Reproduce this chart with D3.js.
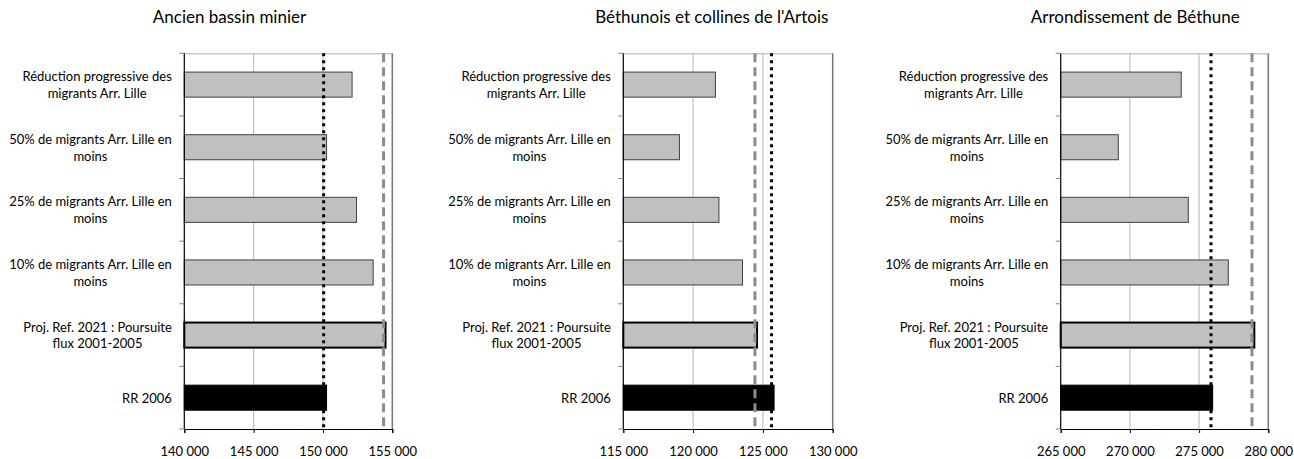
<!DOCTYPE html>
<html>
<head>
<meta charset="utf-8">
<script src="https://cdn.jsdelivr.net/npm/d3@7"></script>
<style>
  body { margin: 0; background: #fff; }
  text { font-family: Lato, "Open Sans", sans-serif; fill: #000; }
</style>
</head>
<body>
<svg id="chart" width="1294" height="459"></svg>
<script>
// Scenario labels, top to bottom (line breaks as wrapped in the chart)
const categories = [
  "Réduction progressive des\nmigrants Arr. Lille",
  "50% de migrants Arr. Lille en\nmoins",
  "25% de migrants Arr. Lille en\nmoins",
  "10% de migrants Arr. Lille en\nmoins",
  "Proj. Ref. 2021 : Poursuite\nflux 2001-2005",
  "RR 2006"
];

const regions = [
  "Ancien bassin minier",
  "Béthunois et collines de l'Artois",
  "Arrondissement de Béthune"
];

// Population 2021 per scenario
const valuesBassinMinier = [152100, 150260, 152420, 153620, 154510, 150260];
const valuesBethunois   = [121600, 119020, 121850, 123540, 124580, 125800];
const valuesArrondissement = [273710, 269160, 274220, 277110, 278990, 275980];

// Reference lines (dotted black, dashed grey)
const dottedRef = [150050, 125620, 275860];
const dashedRef = [154370, 124430, 278820];

const xDomains = [[140000, 155000], [115000, 130000], [265000, 280000]];
const tickValues = [
  [140000, 145000, 150000, 155000],
  [115000, 120000, 125000, 130000],
  [265000, 270000, 275000, 280000]
];

const seriesValues = [valuesBassinMinier, valuesBethunois, valuesArrondissement];

// Panel geometry
const panels = [
  { left: 184.3, right: 392.3, titleX: 229.5 },
  { left: 623.3, right: 832.7, titleX: 711.8 },
  { left: 1060.7, right: 1268.3, titleX: 1135.3 }
];
const plotTop = 53.3, plotBottom = 429;

const fr = d3.formatLocale({ decimal: ",", thousands: " ", grouping: [3], currency: ["", " €"] });
const fmt = fr.format(",d");

const svg = d3.select("#chart");

panels.forEach((p, k) => {
  const g = svg.append("g");
  const x = d3.scaleLinear().domain(xDomains[k]).range([p.left, p.right]);
  const y = d3.scaleBand().domain(categories).range([plotTop, plotBottom])
    .paddingInner(0.6).paddingOuter(0.3);

  // Title
  g.append("text")
    .attr("x", p.titleX).attr("y", 22.7)
    .attr("text-anchor", "middle")
    .style("font-size", "17px")
    .text(regions[k]);

  // Plot frame (top + right) and vertical gridlines
  g.append("line")
    .attr("x1", p.left).attr("x2", p.right)
    .attr("y1", plotTop + 0.5).attr("y2", plotTop + 0.5)
    .attr("stroke", "#b0b0b0").attr("stroke-width", 1);
  tickValues[k].slice(1).forEach((t, i, arr) => {
    const last = i === arr.length - 1;
    g.append("line")
      .attr("x1", x(t)).attr("x2", x(t))
      .attr("y1", plotTop).attr("y2", plotBottom)
      .attr("stroke", last ? "#777" : "#b8b8b8")
      .attr("stroke-width", last ? 1.5 : 1);
  });

  // Bars
  const vals = seriesValues[k];
  g.selectAll("rect.bar")
    .data(categories)
    .join("rect")
    .attr("class", "bar")
    .attr("x", x(xDomains[k][0]))
    .attr("y", d => y(d))
    .attr("width", (d, i) => x(vals[i]) - x(xDomains[k][0]))
    .attr("height", y.bandwidth())
    .attr("fill", (d, i) => i === 5 ? "#000" : "#c0c0c0")
    .attr("stroke", (d, i) => i === 4 ? "#000" : (i === 5 ? "#000" : "#404040"))
    .attr("stroke-width", (d, i) => i === 4 ? 2 : 1);

  // Reference lines
  g.append("line")
    .attr("x1", x(dashedRef[k])).attr("x2", x(dashedRef[k]))
    .attr("y1", plotTop).attr("y2", plotBottom)
    .attr("stroke", "#8c8c8c").attr("stroke-width", 3)
    .attr("stroke-dasharray", "9,5");
  g.append("line")
    .attr("x1", x(dottedRef[k])).attr("x2", x(dottedRef[k]))
    .attr("y1", plotTop).attr("y2", plotBottom)
    .attr("stroke", "#000").attr("stroke-width", 3)
    .attr("stroke-dasharray", "3,4");

  // X axis
  const xAxis = g.append("g")
    .attr("transform", `translate(0,${plotBottom})`)
    .call(d3.axisBottom(x).tickValues(tickValues[k]).tickFormat(fmt).tickSize(4).tickPadding(14));
  xAxis.select(".domain").attr("stroke", "#000");
  xAxis.selectAll(".tick line").attr("stroke", "#000");
  xAxis.selectAll("text").style("font-size", "13px").attr("font-family", null);

  // Y axis: line with ticks at category boundaries
  g.append("line")
    .attr("x1", p.left).attr("x2", p.left)
    .attr("y1", plotTop).attr("y2", plotBottom)
    .attr("stroke", "#000").attr("stroke-width", 1.2);
  const step = y.step();
  d3.range(categories.length + 1).forEach(i => {
    const yy = plotTop + i * step;
    g.append("line")
      .attr("x1", p.left - 5).attr("x2", p.left)
      .attr("y1", yy).attr("y2", yy)
      .attr("stroke", "#808080");
  });

  // Category labels: lines centred together, block right-aligned
  const labelRight = p.left - 12.5;
  categories.forEach(c => {
    const lines = c.split("\n");
    const lg = g.append("g");
    const ts = lines.map(l => lg.append("text").style("font-size", "13px").text(l));
    const maxW = d3.max(ts, t => t.node().getComputedTextLength());
    const cx = labelRight - maxW / 2;
    const cy = y(c) + y.bandwidth() / 2;
    const lh = 16.7;
    ts.forEach((t, i) => {
      t.attr("x", cx)
       .attr("y", cy + (i - (lines.length - 1) / 2) * lh + 5)
       .attr("text-anchor", "middle");
    });
  });
});
</script>
</body>
</html>
